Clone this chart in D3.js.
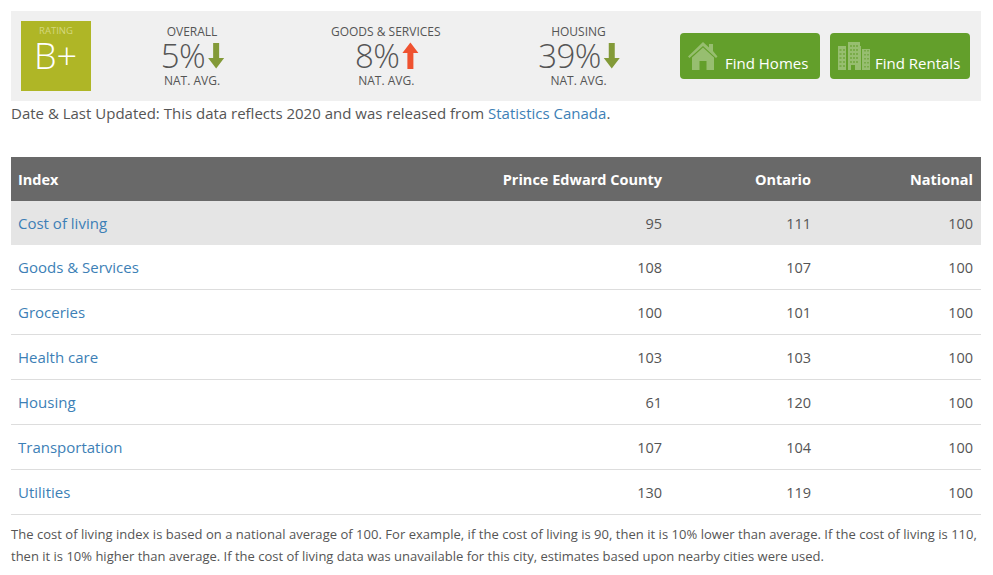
<!DOCTYPE html>
<html><head><meta charset="utf-8">
<script src="https://d3js.org/d3.v7.min.js"></script>
<style>html,body{margin:0;padding:0;background:#fff}svg{display:block}text{font-family:"Open Sans",sans-serif}</style>
</head><body><svg id="c" width="993" height="575"></svg>
<script>
const columns = ["Index","Prince Edward County","Ontario","National"];
const categories = ["Cost of living","Goods & Services","Groceries","Health care","Housing","Transportation","Utilities"];
const county = [95,108,100,103,61,107,130];
const ontario = [111,107,101,103,120,104,119];
const national = [100,100,100,100,100,100,100];
const summaryLabels = ["OVERALL","GOODS & SERVICES","HOUSING"];
const summaryValues = [5,8,39];
const summaryDirs = ["down","up","down"];
const buttons = ["Find Homes","Find Rentals"];
const rating = "B+";
const note = ["The cost of living index is based on a national average of 100. For example, if the cost of living is 90, then it is 10% lower than average. If the cost of living is 110,",
"then it is 10% higher than average. If the cost of living data was unavailable for this city, estimates based upon nearby cities were used."];

const svg = d3.select("#c");
const ink="#555", link="#3d7fb6";
// Summary band
svg.append("rect").attr("x",11).attr("y",11).attr("width",970).attr("height",90).attr("fill","#f0f0f0");
svg.append("rect").attr("x",21).attr("y",21).attr("width",70).attr("height",70).attr("fill","#afb626");
svg.append("text").attr("x",56).attr("y",34).attr("text-anchor","middle").attr("font-size",9.500).attr("fill","#d5d87f").text("RATING");
svg.append("text").attr("x",55.500).attr("y",69).attr("text-anchor","middle").attr("font-size",36).attr("font-weight",300).attr("fill","#fff").text(rating);

const sx = d3.scalePoint().domain(summaryLabels).range([192,578.5]);
summaryLabels.forEach((l,i)=>{
  const cx=sx(l);
  const g=svg.append("g");
  g.append("text").attr("x",cx+(i==1?0.5:0)).attr("y",36).attr("text-anchor","middle").attr("font-size",12).attr("fill",ink).text(l);
  const t=g.append("text").attr("x",cx-9+(i==1?1:0)).attr("y",68).attr("text-anchor","middle").attr("font-size",33).attr("font-weight",300).attr("letter-spacing",-0.6).attr("fill",ink).text(summaryValues[i]+"%");
  const bb=t.node().getBBox();
  const ax=bb.x+bb.width+11;
  const p = summaryDirs[i]=="down"
    ? `M${ax-3},43h6v15h5l-8,10.500l-8,-10.500h5z`
    : `M${ax-3},69v-16h-5l8,-10.500l8,10.500h-5v16z`;
  g.append("path").attr("d",p).attr("fill",summaryDirs[i]=="down"?"#839a38":"#ef5230");
  g.append("text").attr("x",cx+(i==1?1:0)).attr("y",85).attr("text-anchor","middle").attr("font-size",12).attr("fill",ink).text("NAT. AVG.");
});

// Buttons
const bx=d3.scalePoint().domain(buttons).range([680,830]);
buttons.forEach((b,i)=>{
  const x=bx(b);
  const g=svg.append("g").attr("transform",`translate(${x},33)`);
  g.append("rect").attr("width",140).attr("height",46).attr("rx",4).attr("fill","#639f2b");
  g.append("text").attr("x",45).attr("y",35.500).attr("font-size",15).attr("fill","#fff").text(b);
  const ic="#97be70";
  if(i==0){
    g.append("path").attr("fill",ic).attr("d","M8,23.500L23,9L29,14.500V11H33V18L37.500,23.500L36,25L23,13L9.500,25Z");
    g.append("path").attr("fill",ic).attr("fill-rule","evenodd").attr("d","M12,24.500L23,14.500L34,24.500V37H26.500V28H19.500V37H12Z");
  } else {
    g.append("path").attr("fill",ic).attr("d","M8,13H16V37H8ZM18,9H30V13H31V37H25V32H21V37H18ZM32,16H40V37H32Z");
    const w=g.append("g").attr("fill","#639f2b").attr("opacity",.55);
    [16,20,24,28,32].forEach(y=>{[9.500,13].forEach(xx=>w.append("rect").attr("x",xx).attr("y",y).attr("width",2).attr("height",2));
      [20,23,26].forEach(xx=>w.append("rect").attr("x",xx).attr("y",y-4).attr("width",2).attr("height",2));
      [34,37].forEach(xx=>w.append("rect").attr("x",xx).attr("y",y+1).attr("width",2).attr("height",1.500));});
  }
});

// Source line
const src=svg.append("text").attr("x",11).attr("y",119).attr("font-size",15).attr("fill",ink);
src.append("tspan").text("Date & Last Updated: This data reflects 2020 and was released from ");
src.append("tspan").attr("fill",link).text("Statistics Canada");
src.append("tspan").text(".");

// Table
const left=11,right=981;
svg.append("rect").attr("x",left).attr("y",157).attr("width",right-left).attr("height",44).attr("fill","#696969");
const colX=d3.scaleOrdinal().domain(columns).range([18,662,811,973]);
columns.forEach((c,i)=>svg.append("text").attr("x",colX(c)).attr("y",184.500)
  .attr("text-anchor",i?"end":"start").attr("font-size",14.500).attr("font-weight",700).attr("fill","#fff").text(c));
const ry=d3.scaleLinear().domain([0,1,2,7]).range([201,245,289.500,514.500]);
svg.append("rect").attr("x",left).attr("y",ry(0)).attr("width",right-left).attr("height",ry(1)-ry(0)).attr("fill","#e5e5e5");
categories.forEach((c,i)=>{
  if(i>0) svg.append("line").attr("x1",left).attr("x2",right).attr("y1",ry(i+1)).attr("y2",ry(i+1)).attr("stroke","#ddd");
  const y=(ry(i)+ry(i+1))/2+5.500;
  svg.append("text").attr("x",colX(columns[0])).attr("y",y).attr("font-size",15).attr("fill",link).text(c);
  [county,ontario,national].forEach((arr,j)=>svg.append("text").attr("x",colX(columns[j+1])).attr("y",y)
    .attr("text-anchor","end").attr("font-size",14.500).attr("fill",ink).text(arr[i]));
});
// Footnote
note.forEach((n,i)=>svg.append("text").attr("x",11).attr("y",539+i*22).attr("font-size",13).attr("letter-spacing",i==0?0.03:0).attr("fill",ink).text(n));
</script></body></html>
